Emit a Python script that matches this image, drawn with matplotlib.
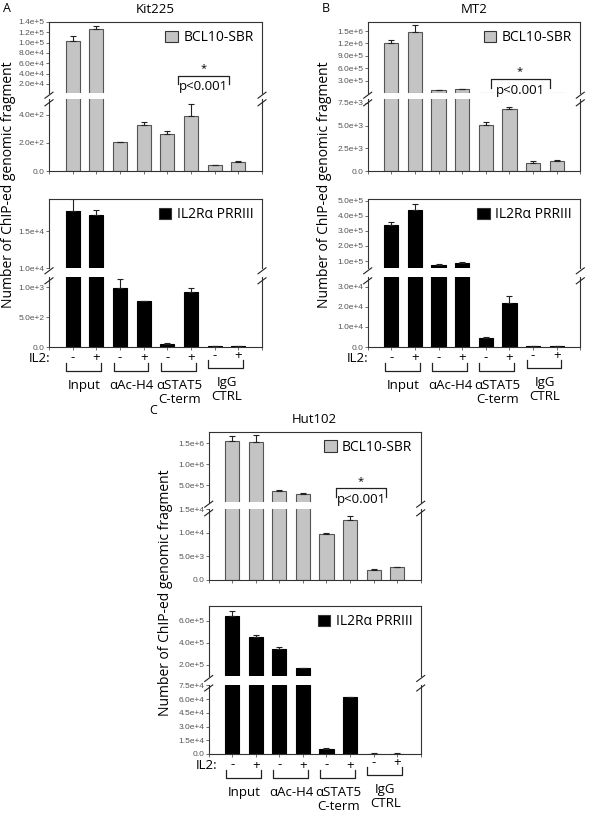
import numpy as np
import matplotlib.pyplot as plt
from matplotlib.patches import Patch
from matplotlib.lines import Line2D

plt.rcParams['font.family'] = ['Open Sans', 'DejaVu Sans']

# conditions on the x axis
groups = ['Input', 'αAc-H4', 'αSTAT5\nC-term', 'IgG\nCTRL']
il2_signs = ['-', '+', '-', '+', '-', '+', '-', '+']

# Kit225
kit_bcl10 = [1.04e5, 1.27e5, 205, 326, 266, 390, 41, 62]
kit_bcl10_err = [8e3, 5e3, 5, 24, 20, 90, 3, 9]
kit_il2ra = [1.77e4, 1.71e4, 990, 770, 57, 916, 10, 10]
kit_il2ra_err = [1.6e3, 700, 150, 10, 5, 67, 3, 3]

# MT2
mt2_bcl10 = [1.22e6, 1.47e6, 7.5e4, 1.0e5, 5.1e3, 6.8e3, 925, 1145]
mt2_bcl10_err = [6e4, 1.7e5, 5e3, 5e3, 250, 300, 175, 35]
mt2_il2ra = [3.35e5, 4.4e5, 7.2e4, 8.7e4, 4.7e3, 2.17e4, 300, 400]
mt2_il2ra_err = [2e4, 4e4, 6e3, 4e3, 300, 3.8e3, 50, 50]

# Hut102
hut_bcl10 = [1.55e6, 1.53e6, 3.6e5, 2.9e5, 9.8e3, 1.275e4, 2.1e3, 2.75e3]
hut_bcl10_err = [1.3e5, 1.8e5, 2e4, 2e4, 200, 750, 200, 100]
hut_il2ra = [6.43e5, 4.57e5, 3.45e5, 1.73e5, 5.8e3, 6.2e4, 500, 500]
hut_il2ra_err = [4.7e4, 1.6e4, 1.9e4, 2e3, 400, 500, 100, 100]

W, H = 600, 816
GREY = '#c4c4c4'
fig = plt.figure(figsize=(W / 100, H / 100), dpi=100)


def fy(y):
    # pixel row -> figure fraction
    return 1 - y / H


def px_axes(x0, x1, y0, y1):
    return fig.add_axes([x0 / W, fy(y1), (x1 - x0) / W, (y1 - y0) / H])


def sci(v):
    if v == 0:
        return '0.0'
    m, e = f'{v:.1e}'.split('e')
    return f'{m}e{int(e):+d}'


def line_px(xs, ys, lw=0.9):
    fig.add_artist(Line2D([x / W for x in xs], [fy(y) for y in ys], color='#222', lw=lw, zorder=10))


def text_px(x, y, s, **kw):
    fig.text(x / W, fy(y), s, va='center', zorder=10, **kw)


def broken(x0, x1, ys, vals, errs, color, up_lim, lo_lim, up_ticks, lo_ticks, label):
    y_top, y_b1, y_b2, y_bot = ys
    vals, errs = np.asarray(vals), np.asarray(errs)
    pos = np.arange(len(vals))
    ax_up = px_axes(x0, x1, y_top, y_b1)
    ax_lo = px_axes(x0, x1, y_b2, y_bot)
    edge = '#555555' if color != 'black' else 'black'
    for ax, keep in ((ax_up, vals > up_lim[0]), (ax_lo, vals < lo_lim[1])):
        ax.set_facecolor('none')
        ax.bar(pos, vals, width=0.6, color=color, edgecolor=edge, linewidth=0.8)
        ax.errorbar(pos[keep], vals[keep], yerr=[np.zeros(keep.sum()), errs[keep]], fmt='none',
                    ecolor='#222', elinewidth=0.8, capsize=2.5, capthick=0.8)
        ax.set_xlim(-1, 8)
        for s in ax.spines.values():
            s.set_linewidth(0.8)
            s.set_color('#333')
        ax.tick_params(axis='y', direction='out', length=2, width=0.6, pad=1,
                       labelsize=6, labelcolor='#555', color='#555')
    ax_up.set_ylim(*up_lim)
    ax_lo.set_ylim(*lo_lim)
    ax_up.set_yticks(up_ticks)
    ax_up.set_yticklabels([sci(v) for v in up_ticks], family='Liberation Sans')
    ax_lo.set_yticks(lo_ticks)
    ax_lo.set_yticklabels([sci(v) for v in lo_ticks], family='Liberation Sans')
    ax_up.spines['bottom'].set_visible(False)
    ax_up.set_xticks([])
    ax_lo.spines['top'].set_visible(False)
    ax_lo.set_xticks(np.arange(-1, 9))
    ax_lo.tick_params(axis='x', direction='out', length=2, width=0.6, labelbottom=False, color='#555')
    # break marks
    for x in (x0, x1):
        for yc in (y_b1 + 2.5, y_b2 + 3.5):
            line_px([x - 4, x + 4], [yc + 3, yc - 3], lw=0.8)
    ax_up.legend(handles=[Patch(facecolor=color, edgecolor='#333', lw=0.8, label=label)],
                 loc='upper right', frameon=False, fontsize=10, handlelength=0.9,
                 handleheight=0.9, handletextpad=0.4, borderaxespad=0.2)
    return ax_up, ax_lo


def xpx(x0, x1, d):
    # bar position -> pixel column (xlim is -1..8)
    return x0 + (d + 1) * (x1 - x0) / 9


def significance(x0, x1, xa, xb, y_line, y_leg, y_star, y_text):
    pa, pb = xpx(x0, x1, xa), xpx(x0, x1, xb)
    line_px([pa, pa, pb, pb], [y_leg, y_line, y_line, y_leg])
    text_px((pa + pb) / 2, y_star, '*', ha='center', fontsize=8)
    text_px((pa + pb) / 2, y_text, 'p<0.001', ha='center', fontsize=9.5)


def conditions(x0, x1, y_bot, x_lab):
    text_px(x_lab, y_bot + 11.5, 'IL2:', ha='right', fontsize=9.5)
    for i, s in enumerate(il2_signs):
        dy = -2.5 if i >= 6 else 0
        text_px(xpx(x0, x1, i), y_bot + 11 + dy, s, ha='center', fontsize=9.5)
    for g, name in enumerate(groups):
        dy = -3 if g == 3 else 0
        pa, pb = xpx(x0, x1, 2 * g - 0.27), xpx(x0, x1, 2 * g + 1.2)
        line_px([pa, pa, pb, pb], [y_bot + 16 + dy, y_bot + 24 + dy,
                                   y_bot + 24 + dy, y_bot + 16 + dy])
        for k, ln in enumerate(name.split('\n')):
            text_px(xpx(x0, x1, 2 * g + 0.5), y_bot + 38.5 + dy + 14 * k, ln,
                    ha='center', fontsize=9.5)


def panel(x0, x1, y_rows, top_vals, top_errs, bot_vals, bot_errs, lims, ticks,
          sig, title, letter, letter_xy, ylab_x, il2_x):
    broken(x0, x1, y_rows[0], top_vals, top_errs, GREY,
           lims[0], lims[1], ticks[0], ticks[1], 'BCL10-SBR')
    broken(x0, x1, y_rows[1], bot_vals, bot_errs, 'black',
           lims[2], lims[3], ticks[2], ticks[3], 'IL2Rα PRRIII')
    significance(x0, x1, *sig)
    conditions(x0, x1, y_rows[1][3], il2_x)
    y0, y1 = y_rows[0][0], y_rows[1][3]
    text_px((x0 + x1) / 2, y0 - 12.5, title, ha='center', fontsize=9.5)
    text_px(letter_xy[0], letter_xy[1], letter, ha='center', fontsize=9)
    text_px(ylab_x, (y0 + y1) / 2, 'Number of ChIP-ed genomic fragment',
            rotation=90, ha='center', fontsize=10)


ab_rows = [(22, 92.7, 99.3, 171), (199, 268.3, 277.3, 347)]
c_rows = [(431.7, 501.7, 509.3, 580), (606, 676, 684.5, 754)]

panel(49, 262, ab_rows, kit_bcl10, kit_bcl10_err, kit_il2ra, kit_il2ra_err,
      [(3e3, 1.4e5), (0, 512), (1e4, 1.93e4), (0, 1170)],
      [np.arange(2e4, 1.41e5, 2e4), [0, 200, 400], [1e4, 1.5e4], [0, 500, 1000]],
      (4.45, 6.6, 76.3, 84, 68.5, 86.7), 'Kit225', 'A', (7, 9), 9, 50)

panel(367.7, 580.3, ab_rows, mt2_bcl10, mt2_bcl10_err, mt2_il2ra, mt2_il2ra_err,
      [(1e4, 1.72e6), (0, 7.9e3), (5.2e4, 5.1e5), (0, 3.47e4)],
      [[3e5, 6e5, 9e5, 1.2e6, 1.5e6], [0, 2500, 5000, 7500],
       [1e5, 2e5, 3e5, 4e5, 5e5], [0, 1e4, 2e4, 3e4]],
      (4.2, 6.7, 79.3, 88, 72, 90.3), 'MT2', 'B', (326, 9), 325, 368)

panel(208.7, 420.7, c_rows, hut_bcl10, hut_bcl10_err, hut_il2ra, hut_il2ra_err,
      [(1e5, 1.78e6), (0, 1.5e4), (1e5, 7.36e5), (0, 7.6e4)],
      [[5e5, 1e6, 1.5e6], [0, 5e3, 1e4, 1.5e4], [2e5, 4e5, 6e5],
       [0, 1.5e4, 3e4, 4.5e4, 6e4, 7.5e4]],
      (4.4, 6.53, 488.3, 496.7, 481.7, 499.5), 'Hut102', 'C', (153, 410), 165.5, 217)

fig.savefig('out.png', dpi=100, facecolor='white')
